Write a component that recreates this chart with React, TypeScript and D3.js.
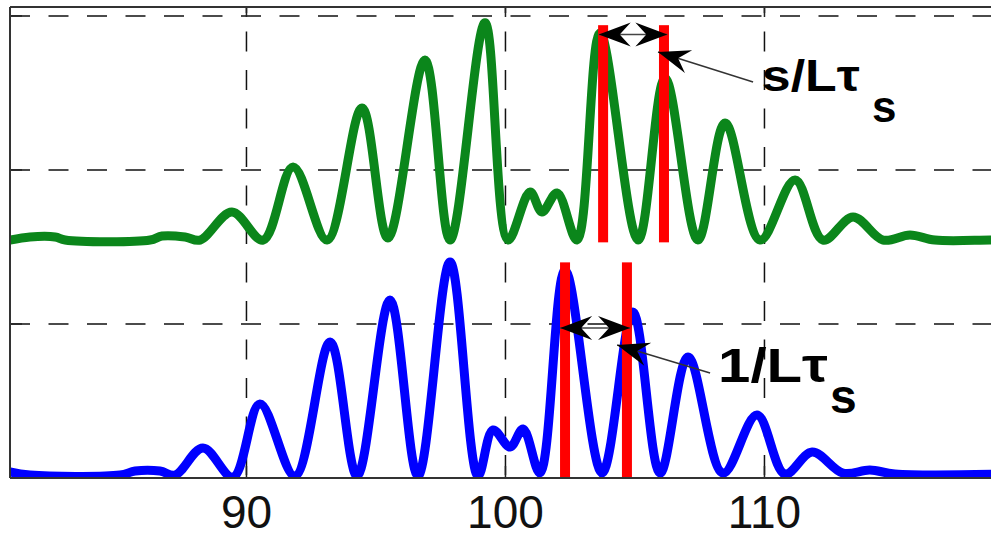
import React from 'react';
import * as d3 from 'd3';

// upper (green) trace, offset by ~1.55
const greenX = [80.87, 81.64, 82.61, 83.0, 86.28, 86.74, 87.63, 88.21, 89.44, 90.64, 91.8, 93.11, 94.46, 95.46, 96.89, 97.86, 99.21, 100.1, 100.95, 101.41, 101.99, 102.76, 103.65, 105.12, 106.16, 107.43, 108.48, 109.83, 111.18, 112.26, 113.42, 114.58, 115.62, 116.58, 118.71, 119.48];
const greenY = [1.545, 1.565, 1.565, 1.545, 1.545, 1.571, 1.565, 1.545, 1.727, 1.545, 2.019, 1.545, 2.403, 1.558, 2.714, 1.545, 2.955, 1.545, 1.857, 1.727, 1.851, 1.545, 2.89, 1.545, 2.597, 1.545, 2.305, 1.545, 1.935, 1.545, 1.695, 1.545, 1.578, 1.545, 1.545, 1.545];

// lower (blue) trace
const blueX = [80.87, 81.64, 85.12, 85.7, 86.66, 87.24, 88.32, 89.48, 90.52, 91.87, 93.23, 94.27, 95.54, 96.62, 97.86, 98.94, 99.52, 100.18, 100.68, 101.33, 102.3, 103.73, 104.92, 105.97, 107.05, 108.4, 109.71, 110.79, 111.84, 113.03, 114.07, 115.04, 119.48];
const blueY = [0.039, 0.019, 0.019, 0.045, 0.045, 0.019, 0.195, 0.006, 0.481, 0.013, 0.883, 0.013, 1.156, 0.013, 1.403, 0.013, 0.312, 0.201, 0.318, 0.032, 1.351, 0.032, 1.078, 0.032, 0.786, 0.032, 0.409, 0.026, 0.169, 0.032, 0.052, 0.026, 0.026];

const xTicks = [90, 100, 110];
const yTicks = [0, 1, 2, 3];

// red markers (x positions) and their vertical extent
const topBars = [103.77, 106.12];
const topBarSpan = [1.53, 2.94];
const bottomBars = [102.3, 104.69];
const bottomBarSpan = [0, 1.4];

// annotations: double arrows, pointer arrows, labels
const topDouble = { x0: 103.6, x1: 106.25, y: 2.88 };
const bottomDouble = { x0: 102.11, x1: 104.81, y: 0.974 };
const topPointer = { from: [109.56, 2.571], to: [105.89, 2.766] };
const bottomPointer = { from: [107.9, 0.682], to: [104.31, 0.864] };
const topLabel = { text: 's/Lτ', sub: 's', x: 109.9, y: 2.513, sx: 114.15, sy: 2.312 };
const bottomLabel = { text: '1/Lτ', sub: 's', x: 108.21, y: 0.623, sx: 112.53, sy: 0.422 };

const W = 991;
const H = 537;
const left = 10;
const right = 1010;
const top = 7;
const bottom = 478;

const x = d3.scaleLinear().domain([80.87, 119.48]).range([left, right]);
const y = d3.scaleLinear().domain([0, 3.058]).range([bottom, top]);

const line = d3.line<[number, number]>()
  .x(d => x(d[0]))
  .y(d => y(d[1]))
  .curve(d3.curveCatmullRom.alpha(0.5));

// arrow head with tip at (tx,ty) pointing away from (fx,fy)
const head = (fx: number, fy: number, tx: number, ty: number) => {
  const a = Math.atan2(ty - fy, tx - fx) * 180 / Math.PI;
  return (
    <path d="M0,0 L-32,-12 L-21,0 L-32,12 Z" fill="#000"
      transform={`translate(${tx},${ty}) rotate(${a})`} />
  );
};

const DoubleArrow = ({ a }: { a: { x0: number; x1: number; y: number } }) => {
  const x0 = x(a.x0), x1 = x(a.x1), yy = y(a.y);
  return (
    <g>
      <line x1={x0} x2={x1} y1={yy} y2={yy} stroke="#444" strokeWidth={1.5} />
      {head(x1, yy, x0, yy)}
      {head(x0, yy, x1, yy)}
    </g>
  );
};

const Pointer = ({ p }: { p: { from: number[]; to: number[] } }) => {
  const fx = x(p.from[0]), fy = y(p.from[1]), tx = x(p.to[0]), ty = y(p.to[1]);
  return (
    <g>
      <line x1={fx} y1={fy} x2={tx} y2={ty} stroke="#333" strokeWidth={1.5} />
      {head(fx, fy, tx, ty)}
    </g>
  );
};

const Label = ({ l, size, len }: { l: typeof topLabel; size: number; len: number }) => (
  <g fontFamily="'Liberation Sans', Arial, sans-serif" fontWeight="bold" fill="#000">
    <text x={x(l.x)} y={y(l.y)} fontSize={size} textLength={len} lengthAdjust="spacingAndGlyphs">{l.text}</text>
    <text x={x(l.sx)} y={y(l.sy)} fontSize={size}>{l.sub}</text>
  </g>
);

export default function App() {
  const green = greenX.map((v, i) => [v, greenY[i]] as [number, number]);
  const blue = blueX.map((v, i) => [v, blueY[i]] as [number, number]);
  const dash = '20 18.5';

  return (
    <svg width={W} height={H} style={{ position: 'absolute', left: 0, top: 0, background: '#fff' }}>
      <defs>
        <clipPath id="plot">
          <rect x={left} y={top} width={right - left} height={bottom - top} />
        </clipPath>
      </defs>

      {/* grid */}
      {xTicks.map(t => (
        <line key={'gx' + t} x1={x(t)} x2={x(t)} y1={top} y2={bottom}
          stroke="#111" strokeWidth={1.5} strokeDasharray={dash} strokeDashoffset={14} />
      ))}
      {yTicks.filter(t => t > 0).map(t => (
        <line key={'gy' + t} x1={left} x2={right} y1={y(t)} y2={y(t)}
          stroke="#111" strokeWidth={1.5} strokeDasharray={dash} />
      ))}

      {/* ticks */}
      {xTicks.map(t => (
        <g key={'tx' + t}>
          <line x1={x(t)} x2={x(t)} y1={bottom} y2={bottom - 12} stroke="#222" strokeWidth={1.5} />
          <line x1={x(t)} x2={x(t)} y1={top} y2={top + 10} stroke="#222" strokeWidth={1.5} />
          <text x={x(t)} y={528} textAnchor="middle" fontSize={46}
            fontFamily="'Liberation Sans', Arial, sans-serif" fill="#111">{t}</text>
        </g>
      ))}
      {yTicks.map(t => (
        <line key={'ty' + t} x1={left} x2={left + 12} y1={y(t)} y2={y(t)} stroke="#222" strokeWidth={1.5} />
      ))}

      {/* traces */}
      <g clipPath="url(#plot)">
        <path d={line(green) || ''} fill="none" stroke="#0b861b" strokeWidth={9} strokeLinejoin="round" />
        <path d={line(blue) || ''} fill="none" stroke="#0000ff" strokeWidth={9} strokeLinejoin="round" />
      </g>

      {/* red markers */}
      {topBars.map(b => (
        <rect key={'rt' + b} x={x(b) - 5} width={10} y={y(topBarSpan[1])}
          height={y(topBarSpan[0]) - y(topBarSpan[1])} fill="#ff0000" />
      ))}
      {bottomBars.map(b => (
        <rect key={'rb' + b} x={x(b) - 5} width={10} y={y(bottomBarSpan[1])}
          height={y(bottomBarSpan[0]) - y(bottomBarSpan[1])} fill="#ff0000" />
      ))}

      {/* axes box */}
      <line x1={left} x2={right} y1={bottom} y2={bottom} stroke="#333" strokeWidth={2} />
      <line x1={left} x2={right} y1={top} y2={top} stroke="#333" strokeWidth={2} />
      <line x1={left} x2={left} y1={top} y2={bottom} stroke="#333" strokeWidth={2} />

      {/* annotations */}
      <DoubleArrow a={topDouble} />
      <DoubleArrow a={bottomDouble} />
      <Pointer p={topPointer} />
      <Pointer p={bottomPointer} />
      <Label l={topLabel} size={44} len={98} />
      <Label l={bottomLabel} size={48} len={110} />
    </svg>
  );
}
